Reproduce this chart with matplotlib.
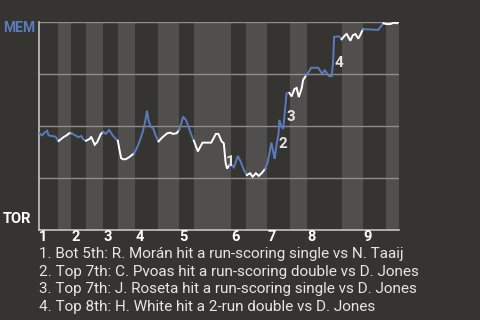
import matplotlib
matplotlib.use("Agg")
import matplotlib.pyplot as plt
from matplotlib.transforms import blended_transform_factory

plt.rcParams['font.family'] = ['Roboto', 'DejaVu Sans']

BG = "#363430"
STRIPE = "#504f4d"
BLUE = "#5a7bbd"
WHITE = "#ffffff"

# half-inning boundaries, game progress 0..100 (top 1st, bot 1st, ... bot 9th)
half_edges = [0, 5.4, 9.0, 13.2, 17.9, 22.0, 26.7, 33.1, 38.9, 43.2,
              53.3, 57.5, 63.3, 69.7, 74.4, 84.1, 89.9, 96.3, 100]
innings = ["1", "2", "3", "4", "5", "6", "7", "8", "9"]

# game progress of each play, grouped by half-inning
half_x = [
    [0.2, 1.0, 1.5, 2.4, 2.8, 3.7, 4.7, 5.6],
    [6.9, 7.8, 8.5, 9.1],
    [10.2, 11.1, 11.9, 12.4, 13.2],
    [14.3, 14.6, 15.6, 16.3, 17.3, 17.9],
    [18.7, 19.6, 20.7, 22.0],
    [22.9, 23.5, 24.2, 25.3, 26.5],
    [27.2, 27.9, 28.9, 29.6, 30.1, 30.5, 31.1, 31.8, 32.5, 33.3],
    [34.4, 35.7, 36.6, 37.2, 38.3, 39.0],
    [39.6, 40.1, 40.9, 41.2, 42.3, 43.1],
    [44.2, 45.5, 46.4, 47.9, 49.2, 49.9, 50.8, 51.4, 51.9, 52.3, 53.0],
    [53.5, 54.2, 55.3, 56.1, 57.0, 57.8],
    [58.7, 59.4, 60.3, 61.1, 62.0, 62.9],
    [63.5, 64.2, 64.6, 65.2, 65.5, 66.1, 66.6, 66.8, 67.4, 67.9, 68.3, 68.8, 69.6],
    [70.2, 71.0, 71.6, 72.2, 73.0, 73.4, 74.3],
    [75.0, 75.6, 77.6, 78.7, 79.4, 80.6, 81.3, 81.7, 82.0, 82.6, 83.5, 84.1],
    [85.0, 85.5, 86.5, 87.2, 87.9, 88.7, 89.3, 90.0],
    [90.9, 94.2, 95.7],
    [96.5, 97.6, 98.7, 99.4, 99.9],
]

# MEM win probability (%) after each play
half_wp = [
    [46.5, 45.5, 46.5, 47.7, 45.5, 45.2, 44.9, 42.8],
    [44.6, 45.5, 46.5, 46.5],
    [45.5, 44.6, 45.2, 43.6, 42.9],
    [43.9, 44.9, 41.0, 42.3, 46.2, 47.1],
    [46.2, 48.1, 45.2, 42.9],
    [34.6, 34.0, 34.0, 35.2, 36.9],
    [39.1, 42.0, 47.1, 52.3, 57.4, 52.9, 49.7, 49.0, 45.5, 42.6],
    [44.6, 46.5, 46.8, 46.2, 46.5, 48.1],
    [51.3, 54.5, 52.9, 51.6, 46.2, 42.9],
    [37.8, 42.0, 42.0, 42.0, 46.2, 46.2, 42.6, 41.7, 32.4, 29.5, 31.4],
    [31.3, 30.1, 35.6, 32.8, 28.8, 26.4],
    [27.3, 25.6, 27.3, 26.0, 27.5, 29.5],
    [32.1, 38.1, 42.0, 36.9, 34.3, 41.7, 46.5, 52.9, 49.7, 48.7, 56.1, 65.7, 65.9],
    [64.2, 67.8, 68.3, 63.9, 68.1, 72.1, 74.5],
    [76.1, 78.0, 78.0, 75.1, 76.8, 74.0, 73.9, 80.1, 92.8, 93.0, 93.0, 91.7],
    [93.6, 94.2, 91.0, 93.6, 94.2, 92.0, 93.9, 96.5],
    [96.5, 96.2, 99.4],
    [99.0, 99.0, 99.7, 99.4, 100.0],
]

# key plays: label, game progress, win probability where the number sits
key_labels = ["1", "2", "3", "4"]
key_x = [53.2, 67.9, 70.1, 83.4]
key_wp = [32.7, 41.3, 54.3, 80.5]
key_text = [
    "1. Bot 5th: R. Morán hit a run-scoring single vs N. Taaij",
    "2. Top 7th: C. Pvoas hit a run-scoring double vs D. Jones",
    "3. Top 7th: J. Roseta hit a run-scoring single vs D. Jones",
    "4. Top 8th: H. White hit a 2-run double vs D. Jones",
]

fig = plt.figure(figsize=(4.8, 3.2), dpi=100, facecolor=BG)
ax = fig.add_axes([38.5 / 480, 90 / 320, 360.5 / 480, 208 / 320])
ax.set_facecolor(BG)
ax.set_xlim(0, 100)
ax.set_ylim(0, 100)

# shade the bottom halves
for i in range(1, len(half_edges) - 1, 2):
    ax.axvspan(half_edges[i], half_edges[i + 1], color=STRIPE, lw=0, zorder=0)

for g in [25, 50, 75, 100]:
    ax.axhline(g, color="#8e8d8b", lw=1, zorder=1)

prev = None
for i, (xs, ys) in enumerate(zip(half_x, half_wp)):
    if prev is not None:
        xs = [prev[0]] + xs
        ys = [prev[1]] + ys
    ax.plot(xs, ys, color=BLUE if i % 2 == 0 else WHITE, lw=1.4,
            solid_joinstyle="miter", zorder=3)
    prev = (xs[-1], ys[-1])

for lab, x, y in zip(key_labels, key_x, key_wp):
    ax.text(x, y, lab, color="#e4e4e4", fontsize=11, fontweight="bold",
            ha="center", va="center", zorder=4)

trans = blended_transform_factory(ax.transData, ax.transAxes)
for k, lab in enumerate(innings):
    ax.text(half_edges[2 * k] + 0.2, -0.036, lab, transform=trans, color="white",
            fontsize=10.5, fontweight="bold", ha="left", va="center")

for side in ["top", "right"]:
    ax.spines[side].set_visible(False)
for side in ["left", "bottom"]:
    ax.spines[side].set_color("#c4c4c4")
    ax.spines[side].set_linewidth(1.2)
ax.set_xticks([])
ax.set_yticks([])

fig.text(3 / 480, 1 - 28 / 320, "MEM", color=BLUE, fontsize=10,
         fontweight="bold", ha="left", va="center")
fig.text(3 / 480, 1 - 219 / 320, "TOR", color="white", fontsize=10.5,
         fontweight="bold", ha="left", va="center")

for j, t in enumerate(key_text):
    fig.text(39 / 480, 1 - (254 + j * 17.7) / 320, t, color="#e6e6e6",
             fontsize=11, ha="left", va="center")

fig.savefig("out.png", dpi=100, facecolor=BG)
